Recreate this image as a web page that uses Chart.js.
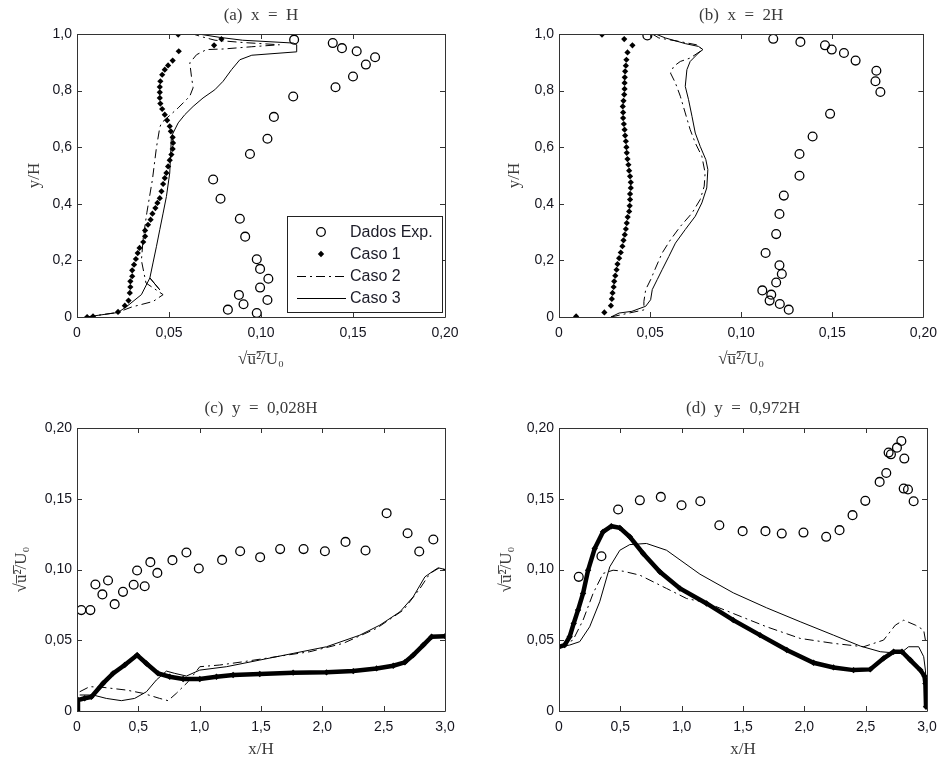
<!DOCTYPE html>
<html>
<head>
<meta charset="utf-8">
<script src="https://cdn.jsdelivr.net/npm/chart.js@4.4.1/dist/chart.umd.min.js"></script>
<style>
  body { margin: 0; background: #fff; }
  #page { position: relative; width: 945px; height: 764px; overflow: hidden; }
  canvas { position: absolute; }
</style>
</head>
<body>
<div id="page">
  <canvas id="pa" style="left:0;top:0"></canvas>
  <canvas id="pb" style="left:472px;top:0"></canvas>
  <canvas id="pc" style="left:0;top:382px"></canvas>
  <canvas id="pd" style="left:472px;top:382px"></canvas>
</div>
<script>
// ---- data: [x, y] pairs ----
// (a) x = H   (x: sqrt(u2)/U0, y: y/H)
const expA = [[0.118,0.980],[0.139,0.968],[0.144,0.950],[0.152,0.939],[0.162,0.918],[0.157,0.892],[0.150,0.850],[0.1405,0.812],[0.1175,0.779],[0.107,0.707],[0.1035,0.630],[0.094,0.576],[0.074,0.486],[0.078,0.418],[0.0885,0.347],[0.0914,0.284],[0.0977,0.204],[0.0995,0.170],[0.104,0.135],[0.0995,0.104],[0.088,0.078],[0.1035,0.060],[0.0905,0.045],[0.082,0.026],[0.0977,0.014]];
const caso1A = [[0.0055,0.0],[0.0087,0.002],[0.0223,0.018],[0.026,0.040],[0.028,0.058],[0.0287,0.085],[0.029,0.106],[0.029,0.126],[0.030,0.144],[0.030,0.165],[0.031,0.185],[0.032,0.205],[0.033,0.226],[0.034,0.244],[0.036,0.265],[0.037,0.285],[0.037,0.306],[0.0386,0.326],[0.040,0.344],[0.041,0.365],[0.0426,0.385],[0.0437,0.403],[0.045,0.420],[0.0459,0.444],[0.0468,0.470],[0.0477,0.491],[0.0486,0.509],[0.0495,0.532],[0.0504,0.554],[0.0513,0.574],[0.052,0.594],[0.0522,0.615],[0.052,0.635],[0.051,0.656],[0.0504,0.674],[0.049,0.695],[0.0477,0.715],[0.0463,0.735],[0.0453,0.754],[0.045,0.774],[0.045,0.794],[0.045,0.813],[0.0453,0.833],[0.0463,0.856],[0.0477,0.874],[0.0495,0.889],[0.052,0.906],[0.0553,0.939],[0.0745,0.960],[0.0785,0.982],[0.055,0.998]];
const caso2A = [[0.005,0.0],[0.022,0.016],[0.0296,0.035],[0.0414,0.055],[0.0468,0.079],[0.0375,0.12],[0.035,0.2],[0.036,0.28],[0.038,0.37],[0.041,0.486],[0.0432,0.6],[0.045,0.67],[0.0459,0.686],[0.055,0.739],[0.0613,0.78],[0.0631,0.81],[0.0622,0.85],[0.0613,0.898],[0.065,0.927],[0.0704,0.945],[0.0794,0.947],[0.095,0.955],[0.11,0.962],[0.09,0.97],[0.075,0.978],[0.068,0.99],[0.063,1.0]];
const caso3A = [[0.005,0.0],[0.0223,0.016],[0.027,0.037],[0.035,0.079],[0.0396,0.138],[0.045,0.096],[0.0396,0.138],[0.0413,0.191],[0.0432,0.250],[0.045,0.309],[0.0468,0.367],[0.0486,0.426],[0.0504,0.509],[0.051,0.591],[0.0513,0.638],[0.055,0.686],[0.0586,0.715],[0.0631,0.744],[0.0685,0.774],[0.0749,0.803],[0.0794,0.833],[0.084,0.874],[0.0885,0.909],[0.095,0.925],[0.1194,0.937],[0.1194,0.962],[0.1176,0.968],[0.09,0.978],[0.0777,0.988],[0.066,1.0]];

// (b) x = 2H
const expB = [[0.0485,0.995],[0.1176,0.983],[0.1325,0.972],[0.146,0.960],[0.1497,0.945],[0.1564,0.933],[0.1628,0.906],[0.1742,0.870],[0.1737,0.833],[0.1764,0.795],[0.1488,0.718],[0.1392,0.638],[0.132,0.576],[0.132,0.499],[0.1234,0.429],[0.121,0.364],[0.1192,0.293],[0.1134,0.226],[0.121,0.183],[0.1223,0.152],[0.1192,0.122],[0.1116,0.094],[0.1165,0.079],[0.1156,0.058],[0.1212,0.046],[0.1261,0.026]];
const caso1B = [[0.0094,0.002],[0.0249,0.016],[0.0285,0.040],[0.029,0.064],[0.0294,0.085],[0.030,0.106],[0.0303,0.126],[0.0309,0.146],[0.0316,0.167],[0.0321,0.187],[0.033,0.208],[0.0339,0.228],[0.0348,0.250],[0.0354,0.271],[0.0361,0.291],[0.0367,0.311],[0.0372,0.332],[0.0377,0.353],[0.0385,0.373],[0.0388,0.393],[0.039,0.415],[0.039,0.435],[0.0394,0.456],[0.0394,0.476],[0.039,0.497],[0.0385,0.517],[0.0381,0.538],[0.0376,0.558],[0.0372,0.580],[0.037,0.600],[0.0367,0.621],[0.0363,0.641],[0.036,0.662],[0.0356,0.682],[0.0352,0.703],[0.0352,0.723],[0.035,0.744],[0.0354,0.764],[0.0358,0.786],[0.036,0.806],[0.036,0.827],[0.0361,0.847],[0.0363,0.868],[0.0367,0.888],[0.037,0.909],[0.0376,0.935],[0.0403,0.960],[0.0358,0.982],[0.0236,0.998]];
const caso2B = [[0.0285,0.0],[0.037,0.012],[0.0466,0.025],[0.0466,0.055],[0.0476,0.097],[0.0503,0.132],[0.053,0.173],[0.0566,0.226],[0.0612,0.273],[0.0666,0.320],[0.073,0.367],[0.0775,0.415],[0.0797,0.462],[0.0802,0.509],[0.0784,0.568],[0.0748,0.615],[0.072,0.662],[0.0693,0.721],[0.0666,0.780],[0.0639,0.827],[0.0612,0.862],[0.063,0.886],[0.0666,0.903],[0.072,0.915],[0.079,0.945],[0.0754,0.962],[0.0657,0.974],[0.0548,0.986],[0.0512,1.0]];
const caso3B = [[0.0285,0.0],[0.033,0.014],[0.040,0.020],[0.0476,0.038],[0.0503,0.061],[0.0512,0.097],[0.0539,0.132],[0.0566,0.167],[0.0603,0.214],[0.0639,0.261],[0.0693,0.309],[0.0748,0.356],[0.0784,0.403],[0.0811,0.456],[0.0817,0.521],[0.0806,0.556],[0.0775,0.603],[0.0748,0.650],[0.073,0.709],[0.0711,0.768],[0.0693,0.815],[0.0702,0.874],[0.072,0.903],[0.0766,0.933],[0.079,0.945],[0.0766,0.956],[0.0693,0.966],[0.0584,0.986],[0.053,1.0]];

// (c) y = 0,028H   (x: x/H, y: sqrt(u2)/U0)
const expC = [[0.035,0.0713],[0.109,0.0713],[0.150,0.0894],[0.207,0.0824],[0.253,0.0922],[0.307,0.0755],[0.375,0.0842],[0.462,0.0892],[0.490,0.0993],[0.552,0.0882],[0.598,0.1052],[0.655,0.0976],[0.778,0.1066],[0.892,0.112],[0.993,0.1007],[1.183,0.1068],[1.330,0.1129],[1.493,0.1087],[1.656,0.1144],[1.847,0.1144],[2.021,0.1129],[2.189,0.1195],[2.352,0.1134],[2.524,0.1398],[2.695,0.1256],[2.790,0.1127],[2.905,0.1212]];
const caso1C = [[0.0,0.0],[0.008,0.0078],[0.063,0.009],[0.117,0.010],[0.212,0.0195],[0.294,0.0266],[0.389,0.0325],[0.490,0.0395],[0.566,0.0336],[0.661,0.0266],[0.756,0.0242],[0.865,0.0226],[1.001,0.0226],[1.137,0.0242],[1.273,0.0254],[1.490,0.0261],[1.762,0.0271],[2.034,0.0273],[2.252,0.0282],[2.442,0.0301],[2.578,0.032],[2.673,0.0344],[2.741,0.0395],[2.823,0.0466],[2.891,0.0525],[3.0,0.0529]];
const caso2C = [[0.022,0.0136],[0.103,0.0172],[0.212,0.0167],[0.402,0.0148],[0.538,0.0125],[0.674,0.0089],[0.742,0.0073],[0.810,0.0125],[0.906,0.0207],[1.001,0.0313],[1.164,0.0325],[1.354,0.0348],[1.626,0.0384],[1.898,0.0419],[2.170,0.0478],[2.442,0.0584],[2.66,0.0713],[2.796,0.0866],[2.877,0.0972],[2.945,0.1007],[3.0,0.1]];
const caso3C = [[0.022,0.0113],[0.131,0.0113],[0.239,0.0089],[0.362,0.0073],[0.470,0.0089],[0.566,0.0136],[0.647,0.0219],[0.729,0.0282],[0.797,0.0266],[0.892,0.0247],[1.001,0.0289],[1.218,0.0313],[1.490,0.036],[1.762,0.0407],[2.034,0.0454],[2.306,0.0536],[2.469,0.0607],[2.633,0.0701],[2.741,0.0807],[2.836,0.0948],[2.905,0.099],[2.945,0.1012],[3.0,0.1]];

// (d) y = 0,972H
const expD = [[0.161,0.0948],[0.346,0.1094],[0.482,0.1424],[0.659,0.1489],[0.830,0.1513],[0.999,0.1454],[1.152,0.1482],[1.307,0.1313],[1.497,0.1271],[1.683,0.1271],[1.816,0.1254],[1.993,0.1261],[2.178,0.1231],[2.287,0.1278],[2.393,0.1384],[2.497,0.1485],[2.614,0.1619],[2.668,0.1682],[2.687,0.1826],[2.706,0.1814],[2.755,0.1861],[2.791,0.1908],[2.815,0.1784],[2.810,0.1572],[2.845,0.1565],[2.891,0.1482]];
const caso1D = [[0.0,0.0454],[0.046,0.0466],[0.087,0.0525],[0.120,0.0619],[0.155,0.0713],[0.196,0.0831],[0.237,0.0995],[0.291,0.1148],[0.359,0.1266],[0.427,0.1306],[0.496,0.1294],[0.577,0.1231],[0.686,0.1113],[0.822,0.0984],[0.986,0.0866],[1.203,0.076],[1.421,0.0642],[1.639,0.0536],[1.857,0.0431],[2.075,0.0341],[2.238,0.0308],[2.401,0.0289],[2.537,0.0294],[2.646,0.0372],[2.728,0.0419],[2.796,0.0419],[2.864,0.036],[2.946,0.0289],[2.979,0.0247],[2.987,0.0195],[2.992,0.003]];
const caso2D = [[0.0,0.0454],[0.114,0.0501],[0.196,0.0642],[0.278,0.0831],[0.359,0.0972],[0.441,0.0995],[0.523,0.0988],[0.659,0.096],[0.877,0.0866],[1.040,0.0795],[1.203,0.0765],[1.421,0.0689],[1.693,0.0595],[1.966,0.0513],[2.238,0.0478],[2.483,0.0454],[2.646,0.0501],[2.742,0.0607],[2.81,0.0642],[2.905,0.0607],[2.973,0.0572],[2.987,0.0501]];
const caso3D = [[0.0,0.0454],[0.087,0.0466],[0.169,0.049],[0.250,0.0595],[0.332,0.0772],[0.414,0.1019],[0.496,0.1136],[0.577,0.1176],[0.713,0.1184],[0.877,0.1136],[1.149,0.0967],[1.421,0.0835],[1.693,0.0729],[1.966,0.0631],[2.238,0.0536],[2.456,0.0459],[2.619,0.0419],[2.782,0.0407],[2.85,0.0454],[2.932,0.0454],[2.973,0.0384],[2.987,0.0289],[2.995,0.017]];

// tick labels
const rmsTicks = ['0', '0,05', '0,10', '0,15', '0,20'];
const heightTicks = ['0', '0,2', '0,4', '0,6', '0,8', '1,0'];
const distTicks = ['0', '0,5', '1,0', '1,5', '2,0', '2,5', '3,0'];

const seriesNames = ['Dados Exp.', 'Caso 1', 'Caso 2', 'Caso 3'];
const panelTitles = ['(a)  x  =  H', '(b)  x  =  2H', '(c)  y  =  0,028H', '(d)  y  =  0,972H'];
const rmsLabel = '\u221Au\u0305\u00B2\u0305/U\u2080';

const SERIF = "'Liberation Serif', 'DejaVu Serif', serif";
const SANS = "'Liberation Sans', Arial, sans-serif";
const DASHDOT = [9, 4, 2, 4];

function pts(arr) {
    return arr.map(p => ({ x: p[0], y: p[1] }));
}

// frame with inward ticks on all four sides
const frameBox = {
    id: 'frameBox',
    afterDatasetsDraw(chart) {
        const { ctx, chartArea: a, scales } = chart;
        ctx.save();
        ctx.strokeStyle = '#333';
        ctx.lineWidth = 1;
        ctx.beginPath();
        ctx.rect(Math.round(a.left) + 0.5, Math.round(a.top) + 0.5, Math.round(a.right - a.left), Math.round(a.bottom - a.top));
        ctx.stroke();
        ctx.beginPath();
        scales.x.ticks.forEach(t => {
            const px = Math.round(scales.x.getPixelForValue(t.value)) + 0.5;
            ctx.moveTo(px, a.bottom); ctx.lineTo(px, a.bottom - 5);
            ctx.moveTo(px, a.top); ctx.lineTo(px, a.top + 5);
        });
        scales.y.ticks.forEach(t => {
            const py = Math.round(scales.y.getPixelForValue(t.value)) + 0.5;
            ctx.moveTo(a.left, py); ctx.lineTo(a.left + 5, py);
            ctx.moveTo(a.right, py); ctx.lineTo(a.right - 5, py);
        });
        ctx.stroke();
        ctx.restore();
    }
};

// legend box inside panel (a)
const insideLegend = {
    id: 'insideLegend',
    afterDraw(chart) {
        const ctx = chart.ctx;
        const x0 = 287, y0 = 216, w = 155, h = 96;
        ctx.save();
        ctx.fillStyle = '#fff';
        ctx.fillRect(x0, y0, w, h);
        ctx.strokeStyle = '#222';
        ctx.lineWidth = 1;
        ctx.strokeRect(x0 + 0.5, y0 + 0.5, w, h);
        const rows = [232, 254, 276, 298];
        ctx.font = '16px ' + SANS;
        ctx.textBaseline = 'middle';
        seriesNames.forEach((name, i) => {
            const y = rows[i];
            ctx.strokeStyle = '#000';
            ctx.fillStyle = '#000';
            if (i === 0) {
                ctx.lineWidth = 1.3;
                ctx.beginPath(); ctx.arc(321, y, 4.3, 0, Math.PI * 2); ctx.stroke();
            } else if (i === 1) {
                ctx.beginPath();
                ctx.moveTo(321, y - 3.2); ctx.lineTo(324.2, y); ctx.lineTo(321, y + 3.2); ctx.lineTo(317.8, y);
                ctx.closePath(); ctx.fill();
            } else {
                ctx.lineWidth = 1;
                ctx.setLineDash(i === 2 ? DASHDOT : []);
                ctx.beginPath(); ctx.moveTo(297, y + 0.5); ctx.lineTo(346, y + 0.5); ctx.stroke();
                ctx.setLineDash([]);
            }
            ctx.fillStyle = '#1c1c28';
            ctx.fillText(name, 350, y + 1);
        });
        ctx.restore();
    }
};

function makePanel(id, size, area, titleText, data, axes, extraPlugins) {
    const canvas = document.getElementById(id);
    canvas.width = size.w; canvas.height = size.h;
    canvas.style.width = size.w + 'px'; canvas.style.height = size.h + 'px';

    const thick = axes.thickCaso1;
    const datasets = [
        { label: seriesNames[0], data: pts(data[0]), showLine: false, pointStyle: 'circle', pointRadius: 4.4, borderWidth: 1.3, borderColor: '#000', backgroundColor: 'rgba(0,0,0,0)' },
        thick
            ? { label: seriesNames[1], data: pts(data[1]), showLine: true, borderColor: '#000', borderWidth: 4.5, pointStyle: 'rectRot', pointRadius: 3.2, pointBackgroundColor: '#000', pointBorderWidth: 0, backgroundColor: '#000' }
            : { label: seriesNames[1], data: pts(data[1]), showLine: false, pointStyle: 'rectRot', pointRadius: 3.1, pointBorderWidth: 0, backgroundColor: '#000', borderColor: '#000' },
        { label: seriesNames[2], data: pts(data[2]), showLine: true, borderColor: '#000', borderWidth: 1, borderDash: DASHDOT, pointRadius: 0 },
        { label: seriesNames[3], data: pts(data[3]), showLine: true, borderColor: '#000', borderWidth: 1, pointRadius: 0 }
    ];

    const titleLine = 17 * 1.2;
    return new Chart(canvas, {
        type: 'scatter',
        data: { datasets },
        options: {
            responsive: false,
            animation: false,
            events: [],
            layout: { padding: { left: 0, top: 0, bottom: 0, right: size.w - area.right } },
            plugins: {
                legend: { display: false },
                tooltip: { enabled: false },
                title: {
                    display: true, text: titleText, fullSize: false,
                    color: '#3a3a3a', font: { family: SERIF, size: 17, weight: 'normal', lineHeight: 1.2 },
                    padding: { top: area.titleY - titleLine / 2, bottom: area.top - area.titleY - titleLine / 2 }
                }
            },
            scales: {
                x: {
                    type: 'linear', min: axes.x.min, max: axes.x.max,
                    grid: { display: false, drawTicks: false }, border: { display: false },
                    ticks: {
                        stepSize: axes.x.step, padding: 8, color: '#14141e',
                        font: { family: SANS, size: 14 },
                        callback: v => axes.x.labels[Math.round(v / axes.x.step)]
                    },
                    title: {
                        display: true, text: axes.x.title, color: '#3a3a3a',
                        font: { family: SERIF, size: 17, lineHeight: 1.2 },
                        padding: { top: 0, bottom: size.h - area.xTitleY - titleLine / 2 }
                    },
                    afterFit: s => { s.height = size.h - area.bottom; }
                },
                y: {
                    type: 'linear', min: axes.y.min, max: axes.y.max,
                    grid: { display: false, drawTicks: false }, border: { display: false },
                    ticks: {
                        stepSize: axes.y.step, padding: 5, color: '#14141e',
                        font: { family: SANS, size: 14 },
                        callback: v => axes.y.labels[Math.round(v / axes.y.step)]
                    },
                    title: {
                        display: true, text: axes.y.title, color: '#3a3a3a',
                        font: { family: SERIF, size: 17, lineHeight: 1.2 },
                        padding: { top: area.yTitleX - titleLine / 2, bottom: 0 }
                    },
                    afterFit: s => { s.width = area.left; }
                }
            }
        },
        plugins: [frameBox].concat(extraPlugins || [])
    });
}

const profileAxes = {
    x: { min: 0, max: 0.2, step: 0.05, labels: rmsTicks, title: rmsLabel },
    y: { min: 0, max: 1, step: 0.2, labels: heightTicks, title: 'y/H' },
    thickCaso1: false
};
const lineAxes = {
    x: { min: 0, max: 3, step: 0.5, labels: distTicks, title: 'x/H' },
    y: { min: 0, max: 0.2, step: 0.05, labels: rmsTicks, title: rmsLabel },
    thickCaso1: true
};

makePanel('pa', { w: 472, h: 382 }, { left: 77, right: 445, top: 34, bottom: 317, titleY: 16, xTitleY: 360, yTitleX: 35 },
    panelTitles[0], [expA, caso1A, caso2A, caso3A], profileAxes, [insideLegend]);
makePanel('pb', { w: 473, h: 382 }, { left: 87, right: 455, top: 34, bottom: 317, titleY: 16, xTitleY: 360, yTitleX: 43 },
    panelTitles[1], [expB, caso1B, caso2B, caso3B], profileAxes);
makePanel('pc', { w: 472, h: 382 }, { left: 77, right: 445, top: 46, bottom: 329, titleY: 27, xTitleY: 368, yTitleX: 22 },
    panelTitles[2], [expC, caso1C, caso2C, caso3C], lineAxes);
makePanel('pd', { w: 473, h: 382 }, { left: 87, right: 455, top: 46, bottom: 329, titleY: 27, xTitleY: 368, yTitleX: 35 },
    panelTitles[3], [expD, caso1D, caso2D, caso3D], lineAxes);
</script>
</body>
</html>
